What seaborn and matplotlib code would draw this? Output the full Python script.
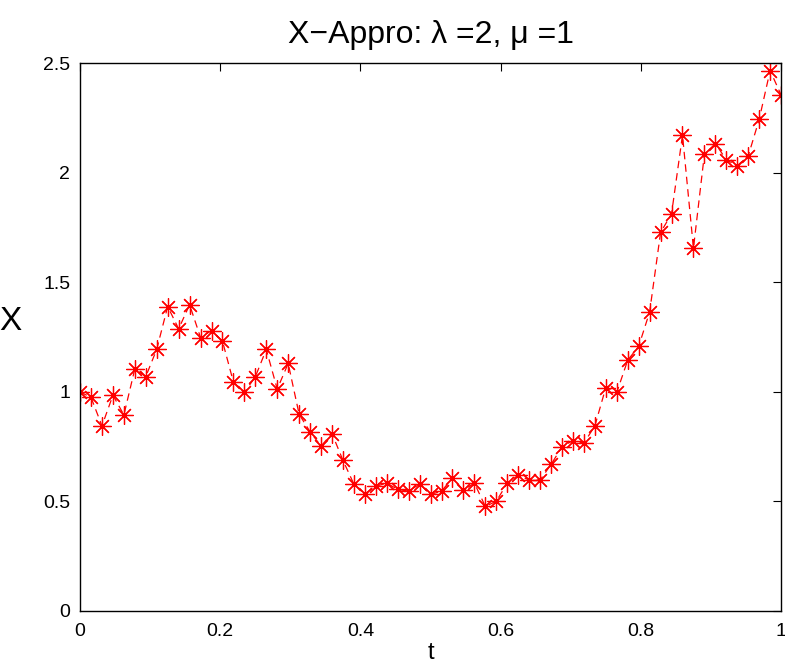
import numpy as np
import pandas as pd
import matplotlib.pyplot as plt
import seaborn as sns

# time grid: 65 points, step 1/64
t = np.linspace(0, 1, 65)
# approximated path X
X = [1.00, 0.975, 0.845, 0.985, 0.895, 1.105, 1.07, 1.195, 1.39, 1.288,
     1.398, 1.248, 1.28, 1.232, 1.045, 0.998, 1.069, 1.194, 1.013, 1.13,
     0.898, 0.818, 0.753, 0.81, 0.688, 0.579, 0.535, 0.569, 0.584, 0.555,
     0.547, 0.579, 0.532, 0.547, 0.607, 0.551, 0.584, 0.477, 0.501, 0.583,
     0.62, 0.598, 0.598, 0.669, 0.749, 0.778, 0.766, 0.845, 1.02, 0.998,
     1.145, 1.208, 1.365, 1.728, 1.813, 2.172, 1.656, 2.085, 2.134, 2.06,
     2.033, 2.077, 2.244, 2.467, 2.356]

df = pd.DataFrame({'t': t, 'X': X})

sns.set_style('white')
plt.rcParams['font.family'] = ['Liberation Sans', 'DejaVu Sans']
plt.rcParams['text.color'] = 'black'
plt.rcParams['axes.labelcolor'] = 'black'
plt.rcParams['xtick.color'] = 'black'
plt.rcParams['ytick.color'] = 'black'

fig = plt.figure(figsize=(7.85, 6.67), dpi=100)
ax = fig.add_axes([0.102, 0.084, 0.893, 0.821])

sns.lineplot(data=df, x='t', y='X', ax=ax, color='red', linestyle=(0, (6, 4)),
             linewidth=0.9, marker=(8, 2, 0), markersize=13,
             markeredgecolor='red', markeredgewidth=0.9)

ax.set_xlim(0, 1)
ax.set_ylim(0, 2.5)
ax.set_xticks([0, 0.2, 0.4, 0.6, 0.8, 1])
ax.set_xticklabels(['0', '0.2', '0.4', '0.6', '0.8', '1'])
ax.set_yticks([0, 0.5, 1, 1.5, 2, 2.5])
ax.set_yticklabels(['0', '0.5', '1', '1.5', '2', '2.5'])
ax.tick_params(direction='in', top=True, right=True, labelsize=14, length=6,
               width=0.8)
ax.tick_params(axis='x', pad=9)
ax.tick_params(axis='y', pad=7)
for s in ax.spines.values():
    s.set_color('black')
    s.set_linewidth(1.0)

ax.set_xlabel('t', fontsize=17, labelpad=1)
ax.set_ylabel('X', fontsize=24, rotation=0, labelpad=24)
ax.set_title('X\u2212Appro: \u03bb =2, \u03bc =1', fontsize=23, pad=15)

fig.savefig('out.png', dpi=100)
